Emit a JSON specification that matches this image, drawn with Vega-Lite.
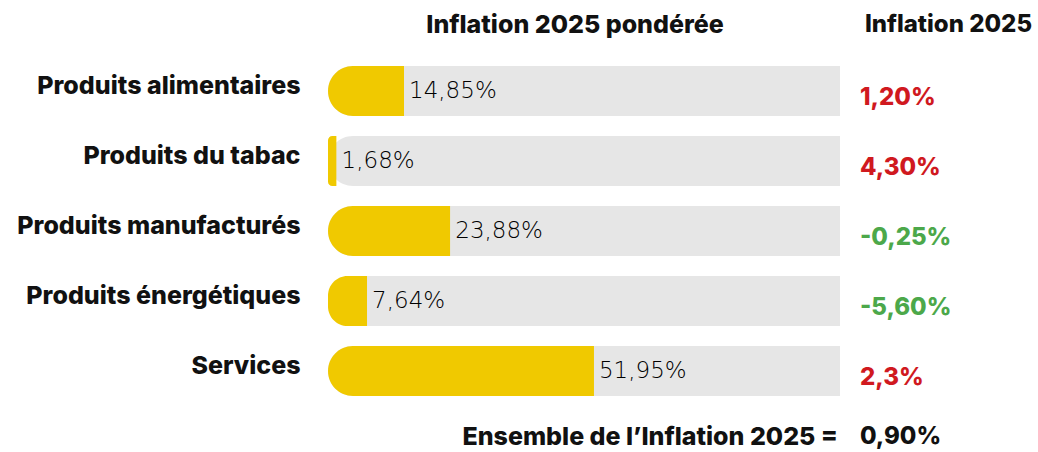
{
  "$schema": "https://vega.github.io/schema/vega-lite/v6.json",
  "width": 512,
  "height": 420,
  "autosize": {"type": "none"},
  "padding": {"left": 328, "top": 56, "right": 198, "bottom": 0},
  "background": "white",
  "config": {"view": {"stroke": null}, "text": {"font": "Inter"}},
  "datasets": {
    "rows": [
      {"cat": "Produits alimentaires", "weight": 14.85, "wlabel": "14,85%", "infl": 1.20, "ilabel": "1,20%"},
      {"cat": "Produits du tabac", "weight": 1.68, "wlabel": "1,68%", "infl": 4.30, "ilabel": "4,30%"},
      {"cat": "Produits manufacturés", "weight": 23.88, "wlabel": "23,88%", "infl": -0.25, "ilabel": "-0,25%"},
      {"cat": "Produits énergétiques", "weight": 7.64, "wlabel": "7,64%", "infl": -5.60, "ilabel": "-5,60%"},
      {"cat": "Services", "weight": 51.95, "wlabel": "51,95%", "infl": 2.3, "ilabel": "2,3%"}
    ]
  },
  "encoding": {
    "y": {
      "field": "cat",
      "type": "nominal",
      "sort": null,
      "scale": {
        "domain": ["Produits alimentaires", "Produits du tabac", "Produits manufacturés", "Produits énergétiques", "Services", "Ensemble"],
        "paddingInner": 0.2857,
        "paddingOuter": 0.14285
      },
      "axis": {
        "title": null,
        "domain": false,
        "ticks": false,
        "grid": false,
        "labelPadding": 28,
        "labelFont": "Inter",
        "labelFontSize": 25,
        "labelFontWeight": 800,
        "labelColor": "#111111",
        "labelOffset": -5,
        "labelLimit": 400,
        "labelExpr": "datum.value == 'Ensemble' ? '' : datum.value"
      }
    }
  },
  "layer": [
    {
      "data": {"name": "rows"},
      "mark": {"type": "bar", "color": "#E6E6E6", "cornerRadiusTopLeft": 25, "cornerRadiusBottomLeft": 25},
      "encoding": {
        "x": {"datum": 100, "type": "quantitative", "scale": {"domain": [0, 100]}, "axis": null}
      }
    },
    {
      "data": {"name": "rows"},
      "mark": {"type": "bar", "color": "#F0C900", "cornerRadiusTopLeft": 25, "cornerRadiusBottomLeft": 25},
      "encoding": {
        "x": {"field": "weight", "type": "quantitative", "scale": {"domain": [0, 100]}, "axis": null}
      }
    },
    {
      "data": {"name": "rows"},
      "mark": {"type": "text", "align": "left", "baseline": "middle", "dx": 5, "fontSize": 23, "font": "DejaVu Sans", "fontWeight": 200, "color": "#000000"},
      "encoding": {
        "x": {"field": "weight", "type": "quantitative"},
        "text": {"field": "wlabel"}
      }
    },
    {
      "data": {"name": "rows"},
      "mark": {"type": "text", "align": "left", "baseline": "middle", "dx": 20, "dy": 7, "fontSize": 24, "fontWeight": 800},
      "encoding": {
        "x": {"datum": 100, "type": "quantitative"},
        "text": {"field": "ilabel"},
        "color": {"condition": {"test": "datum.infl < 0", "value": "#4CA84A"}, "value": "#D0191F"}
      }
    },
    {
      "data": {"values": [{"cat": "Produits alimentaires", "t": "Inflation 2025 pondérée"}]},
      "mark": {"type": "text", "align": "center", "baseline": "middle", "dy": -66, "dx": -9, "fontSize": 25, "fontWeight": 800, "color": "#111111"},
      "encoding": {
        "x": {"datum": 50, "type": "quantitative"},
        "text": {"field": "t"}
      }
    },
    {
      "data": {"values": [{"cat": "Produits alimentaires", "t": "Inflation 2025"}]},
      "mark": {"type": "text", "align": "left", "baseline": "middle", "dy": -66, "dx": 25, "fontSize": 24, "fontWeight": 800, "color": "#111111"},
      "encoding": {
        "x": {"datum": 100, "type": "quantitative"},
        "text": {"field": "t"}
      }
    },
    {
      "data": {"values": [{"cat": "Ensemble", "a": "Ensemble de l’Inflation 2025 =", "b": "0,90%"}]},
      "mark": {"type": "text", "align": "right", "baseline": "middle", "dy": -4, "dx": -2, "fontSize": 25, "fontWeight": 800, "color": "#111111"},
      "encoding": {
        "x": {"datum": 100, "type": "quantitative"},
        "text": {"field": "a"}
      }
    },
    {
      "data": {"values": [{"cat": "Ensemble", "a": "Ensemble de l’Inflation 2025 =", "b": "0,90%"}]},
      "mark": {"type": "text", "align": "left", "baseline": "middle", "dy": -4, "dx": 20, "fontSize": 24, "fontWeight": 800, "color": "#111111"},
      "encoding": {
        "x": {"datum": 100, "type": "quantitative"},
        "text": {"field": "b"}
      }
    }
  ]
}
